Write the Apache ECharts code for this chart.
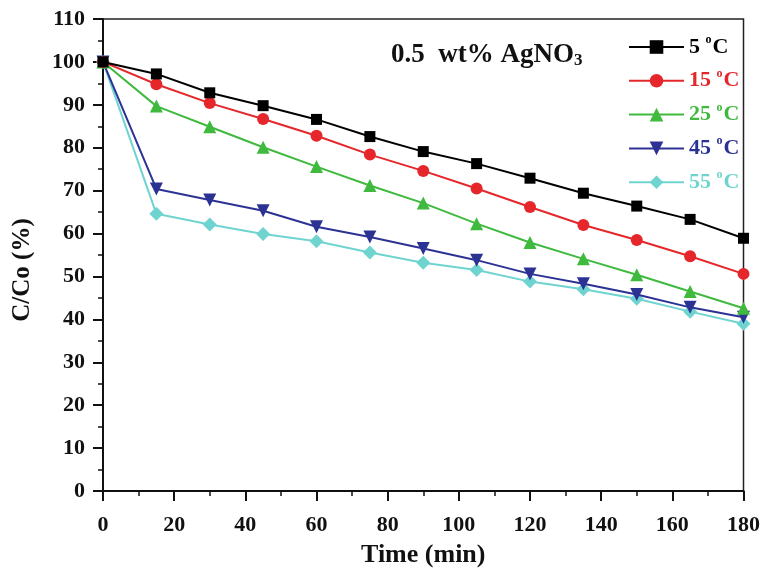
<!DOCTYPE html>
<html>
<head>
<meta charset="utf-8">
<script src="https://cdn.jsdelivr.net/npm/echarts@6/dist/echarts.min.js"></script>
<style>
  html, body { margin: 0; padding: 0; background: #fff; }
  #chart { width: 763px; height: 573px; }
</style>
</head>
<body>
<div id="chart"></div>
<script>
// Sampling times (min)
const times = [0, 15, 30, 45, 60, 75, 90, 105, 120, 135, 150, 165, 180];

// C/Co (%) at each temperature
const c5  = [100, 97.2, 92.8, 89.8, 86.6, 82.6, 79.1, 76.3, 72.9, 69.4, 66.4, 63.3, 58.9];
const c15 = [100, 94.8, 90.4, 86.7, 82.8, 78.4, 74.6, 70.5, 66.2, 62.0, 58.5, 54.7, 50.6];
const c25 = [100, 89.7, 84.9, 80.1, 75.6, 71.2, 67.1, 62.3, 57.9, 54.1, 50.4, 46.5, 42.6];
const c45 = [100, 70.4, 67.8, 65.3, 61.6, 59.2, 56.5, 53.8, 50.6, 48.3, 45.8, 42.8, 40.5];
const c55 = [100, 64.6, 62.1, 59.9, 58.2, 55.6, 53.2, 51.5, 48.8, 47.0, 44.8, 41.8, 39.0];

const seriesNames = ['5 °C', '15 °C', '25 °C', '45 °C', '55 °C'];
const seriesData = [c5, c15, c25, c45, c55];
const colors = ['#000000', '#e5262b', '#3fba3f', '#2c3294', '#6fd4d0'];
const symbols = ['rect', 'circle', 'triangle', 'path://M0,0 L10,0 L5,9 Z', 'diamond'];
const symbolSizes = [11, 12, 13, 13, 14];

const yTicks = { min: 0, max: 110, interval: 10 };
const xTicks = { min: 0, max: 180, interval: 20 };

const serif = '"Liberation Serif", "DejaVu Serif", serif';

const chart = echarts.init(document.getElementById('chart'), null, { renderer: 'canvas' });

const series = seriesNames.map((name, i) => ({
  name: name,
  type: 'line',
  data: times.map((t, k) => [t, seriesData[i][k]]),
  symbol: symbols[i],
  symbolSize: symbolSizes[i],
  showSymbol: true,
  lineStyle: { color: colors[i], width: 2 },
  itemStyle: { color: colors[i] },
  z: 10 - i,
  animation: false
}));

const option = {
  backgroundColor: '#ffffff',
  animation: false,
  title: {
    text: '{a|0.5  wt% AgNO}{b|3}',
    left: 386,
    top: 37,
    textStyle: {
      rich: {
        a: { fontFamily: serif, fontWeight: 'bold', fontSize: 27, color: '#111' },
        b: { fontFamily: serif, fontWeight: 'bold', fontSize: 17, color: '#111', verticalAlign: 'bottom', padding: [10, 0, 0, 0] }
      }
    }
  },
  legend: {
    orient: 'vertical',
    left: 623,
    top: 29,
    itemWidth: 55,
    itemHeight: 17,
    itemGap: 9.8,
    data: seriesNames.map((n, i) => ({ name: n, textStyle: { color: colors[i] } })),
    formatter: function (name) {
      const num = name.split(' ')[0];
      return '{n|' + num + ' }{s|o}{n|C}';
    },
    textStyle: {
      rich: {
        n: { fontFamily: serif, fontWeight: 'bold', fontSize: 22 },
        s: { fontFamily: serif, fontWeight: 'bold', fontSize: 12, verticalAlign: 'top', padding: [0, 1, 14, 0] }
      }
    }
  },
  grid: {
    left: 103,
    right: 18,
    top: 19,
    bottom: 80,
    show: true,
    borderColor: '#222',
    borderWidth: 1.5,
    containLabel: false
  },
  xAxis: {
    type: 'value',
    min: xTicks.min,
    max: xTicks.max,
    interval: xTicks.interval,
    name: 'Time (min)',
    nameLocation: 'middle',
    nameGap: 51,
    nameTextStyle: { fontFamily: serif, fontWeight: 'bold', fontSize: 26, color: '#111' },
    axisLine: { show: true, lineStyle: { color: '#111', width: 2 } },
    axisTick: { show: true, length: 10, lineStyle: { color: '#111', width: 2 } },
    minorTick: { show: true, splitNumber: 2, length: 5, lineStyle: { color: '#111', width: 1.5 } },
    axisLabel: { fontFamily: serif, fontWeight: 'bold', fontSize: 22, color: '#111', margin: 23 },
    splitLine: { show: false }
  },
  yAxis: {
    type: 'value',
    min: yTicks.min,
    max: yTicks.max,
    interval: yTicks.interval,
    name: 'C/Co (%)',
    nameLocation: 'middle',
    nameGap: 68,
    nameRotate: 90,
    nameTextStyle: { fontFamily: serif, fontWeight: 'bold', fontSize: 25, color: '#111', padding: [0, 30, 0, 0] },
    axisLine: { show: true, lineStyle: { color: '#111', width: 2 } },
    axisTick: { show: true, length: 10, lineStyle: { color: '#111', width: 2 } },
    minorTick: { show: true, splitNumber: 2, length: 5, lineStyle: { color: '#111', width: 1.5 } },
    axisLabel: { fontFamily: serif, fontWeight: 'bold', fontSize: 22, color: '#111', margin: 18 },
    splitLine: { show: false }
  },
  series: series
};

chart.setOption(option);
</script>
</body>
</html>
